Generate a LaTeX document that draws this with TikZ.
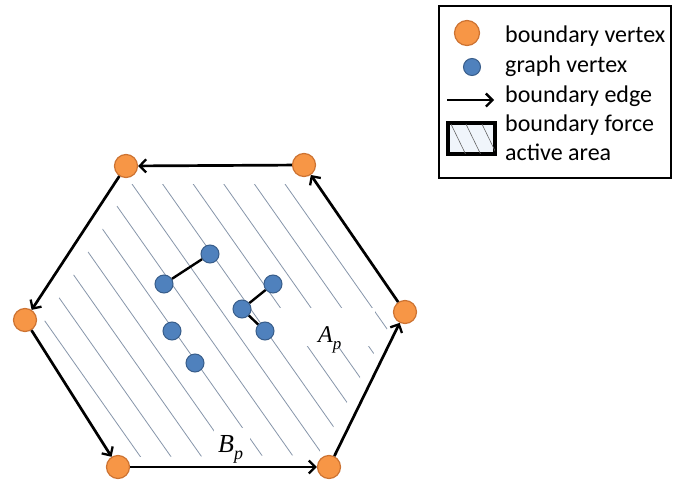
\documentclass[tikz,border=0pt]{standalone}
\usepackage{fontspec}
\setmainfont{Carlito}
\newfontfamily\mathserif{Liberation Serif}
\usetikzlibrary{arrows.meta}
\definecolor{bvorange}{RGB}{247,150,70}
\definecolor{bvborder}{RGB}{205,115,50}
\definecolor{gvblue}{RGB}{79,129,189}
\definecolor{gvborder}{RGB}{56,93,138}
\definecolor{hatchcol}{RGB}{135,150,170}
\definecolor{legfill}{RGB}{240,245,251}
\begin{document}
\begin{tikzpicture}[x=1pt,y=-1pt,
  bvert/.style={circle,fill=bvorange,draw=bvborder,line width=1.2pt,minimum size=23pt,inner sep=0pt},
  gvert/.style={circle,fill=gvblue,draw=gvborder,line width=1pt,minimum size=18pt,inner sep=0pt},
  bedge/.style={-{Straight Barb[length=6.5pt,width=13pt,line width=2.3pt]},line width=2.7pt,black},
  gedge/.style={line width=2.4pt,black},
  hatchline/.style={draw=hatchcol,line width=0.8pt},
  legtext/.style={font=\fontsize{24}{29}\selectfont,anchor=base west,inner sep=0pt},
  mlabel/.style={anchor=base west,inner sep=0pt}
]
\useasboundingbox (0,0) rectangle (673,485);
\fill[white] (0,0) rectangle (673,485);

% hatching
\begin{scope}
\clip (131,184) -- (292,184) -- (392,320) -- (318,455) -- (132,457) -- (44,322) -- cycle;
\foreach \k in {-6,...,5}{
  \pgfmathsetmacro\xa{132+30.6*\k-59.15}
  \pgfmathsetmacro\xb{132+30.6*\k+222.5}
  \draw[hatchline] (\xa,100) -- (\xb,500);
}
\end{scope}
% white areas behind labels
\fill[white] (280,308) rectangle (375,346);
\fill[white] (214,428) rectangle (250,462);

% labels
\node[mlabel] (ap) at (318,342) {\mathserif\itshape\fontsize{24}{24}\selectfont A\raisebox{-0.3em}{\fontsize{17}{17}\selectfont p}};
\node[mlabel] (bp) at (218,452) {\mathserif\itshape\fontsize{26}{26}\selectfont B\raisebox{-0.3em}{\fontsize{18}{18}\selectfont p}};

% boundary vertices
\node[bvert] (tl) at (126,166) {};
\node[bvert] (tr) at (304,165) {};
\node[bvert] (r) at (405,312) {};
\node[bvert] (br) at (329,467) {};
\node[bvert] (bl) at (118,467) {};
\node[bvert] (l) at (25,320) {};

\draw[bedge] (tr) -- (tl);
\draw[bedge] (tl) -- (l);
\draw[bedge] (l) -- (bl);
\draw[bedge] (bl) -- (br);
\draw[bedge] (br) -- (r);
\draw[bedge] (r) -- (tr);

% graph vertices
\node[gvert] (g1) at (210,254) {};
\node[gvert] (g2) at (164,284) {};
\node[gvert] (g3) at (273,284) {};
\node[gvert] (g4) at (242,309) {};
\node[gvert] (g5) at (265,331) {};
\node[gvert] (g6) at (172,331) {};
\node[gvert] (g7) at (195,363) {};
\draw[gedge] (g2) -- (g1);
\draw[gedge] (g4) -- (g3);
\draw[gedge] (g4) -- (g5);

% legend
\node[draw=black,line width=2pt,minimum width=232pt,minimum height=172pt,inner sep=0pt] (legend) at (555,92) {};
\node[bvert,minimum size=25pt] (lbv) at (467,33) {};
\node[gvert,minimum size=17pt] (lgv) at (472,67) {};
\coordinate (la1) at (447,100);
\coordinate (la2) at (494,100);
\draw[bedge] (la1) -- (la2);
\node[draw=black,line width=2.5pt,fill=legfill,minimum width=46pt,minimum height=30pt,inner sep=0pt] (lhatch) at (471.5,138.5) {};
\begin{scope}
\clip (lhatch.south west) rectangle (lhatch.north east);
\foreach \xs in {450,465,481}{
  \draw[hatchline,draw=black!60,line width=0.6pt] (\xs,122) -- (\xs+16,155);
}
\end{scope}
\draw[line width=2.5pt] (lhatch.south west) rectangle (lhatch.north east);
\node[legtext] (t1) at (505,42) {boundary vertex};
\node[legtext] (t2) at (505,72) {graph vertex};
\node[legtext] (t3) at (505,102) {boundary edge};
\node[legtext] (t4) at (505,131) {boundary force};
\node[legtext] (t5) at (505,160) {active area};
\end{tikzpicture}
\end{document}
